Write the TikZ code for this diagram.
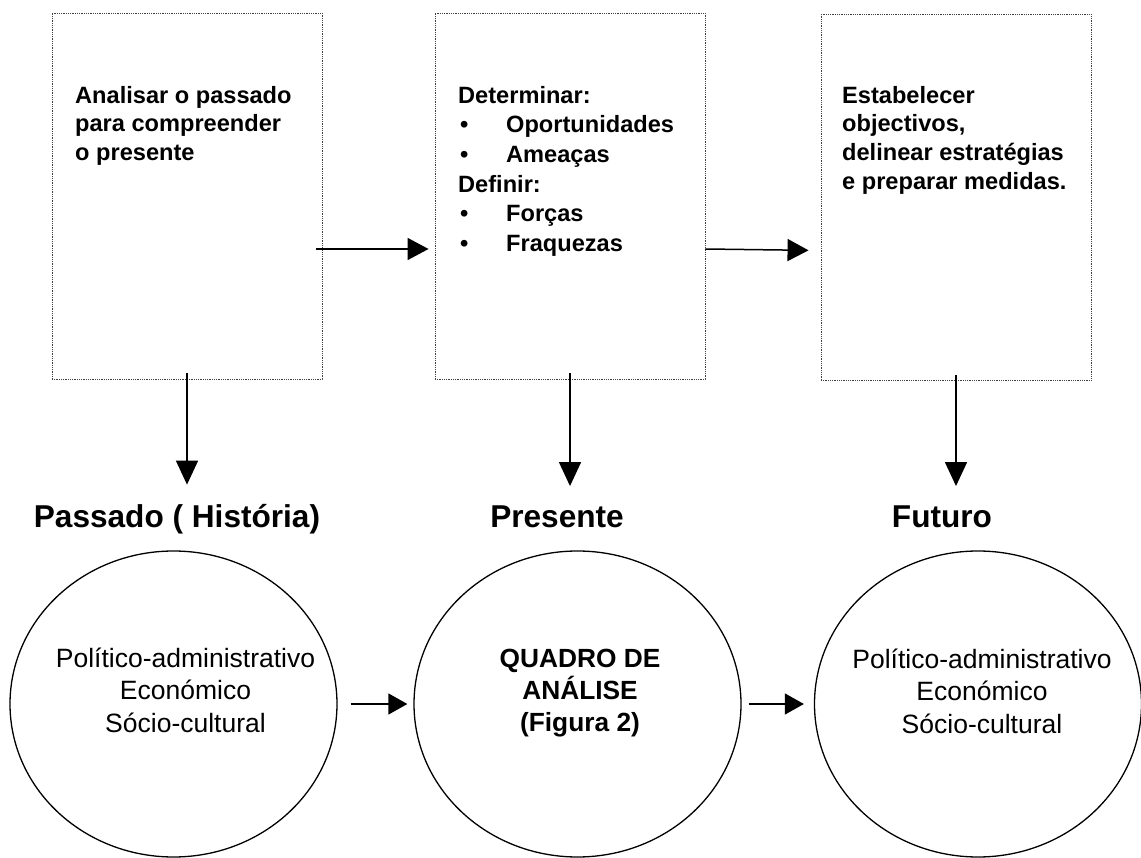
\documentclass[tikz,border=0pt]{standalone}
\usepackage{fontspec}
\setmainfont{Liberation Sans}
\usepackage{tikz}
\usetikzlibrary{arrows.meta}
\usetikzlibrary{shapes,shapes.geometric}
\tikzset{>=stealth}
\tikzset{
        stage/.style={draw=gray!50!black, line width=0.9pt, dash pattern=on 0.9pt off 0.9pt,
                minimum width=270pt, minimum height=366pt, inner sep=0pt},
        boxtext/.style={anchor=north west, inner sep=0pt, align=left,
                font=\fontsize{23.6}{28.7}\selectfont\bfseries},
        era/.style={anchor=base, inner sep=0pt, font=\fontsize{31.6}{36}\selectfont\bfseries},
        sphere/.style={ellipse, draw, line width=1.3pt, minimum width=327pt, minimum height=306pt, inner sep=0pt},
        spheretext/.style={inner sep=0pt, align=center, font=\fontsize{26.5}{32.5}\selectfont},
        flow/.style={line width=1.5pt, -{Triangle[length=21pt,width=22pt]}},
}

\begin{document}
\begin{tikzpicture}[x=1pt, y=-1pt]
        \useasboundingbox[fill=white] (0,0) rectangle (1141,858);

        % Boxes
        \node[stage] (past box) at (187,196) {};
        \node[stage] (now box) at (570,196) {};
        \node[stage] (next box) at (956,197.5) {};

        \node[boxtext] (past txt) at (75,86) {Analisar o passado\\para compreender\\o presente};
        \node[boxtext, font=\fontsize{23.6}{29.6}\selectfont\bfseries] (now txt) at (458,86) {Determinar:\\
                \makebox[48pt][l]{\hspace{2pt}\textbullet}Oportunidades\\
                \makebox[48pt][l]{\hspace{2pt}\textbullet}Ameaças\\
                Definir:\\
                \makebox[48pt][l]{\hspace{2pt}\textbullet}Forças\\
                \makebox[48pt][l]{\hspace{2pt}\textbullet}Fraquezas};
        \node[boxtext] (next txt) at (842,86) {Estabelecer\\objectivos,\\delinear estratégias\\e preparar medidas.};

        % Labels
        \node[era] (past lbl) at (177,527) {Passado ( História)};
        \node[era] (now lbl) at (557,527) {Presente};
        \node[era] (next lbl) at (942,527) {Futuro};

        % Circles
        \node[sphere] (past sph) at (173.5,704) {};
        \node[sphere] (now sph) at (577.5,704) {};
        \node[sphere] (next sph) at (978,704) {};

        \node[spheretext] (past aspects) at (185.5,690) {Político-administrativo\\Económico\\Sócio-cultural};
        \node[spheretext, font=\fontsize{26.3}{32}\selectfont\bfseries] (frame) at (580,693) {QUADRO DE\\ANÁLISE\\(Figura 2)};
        \node[spheretext] (next aspects) at (982,691) {Político-administrativo\\Económico\\Sócio-cultural};

        % Arrows
        \draw[flow, shorten <=-6pt, shorten >=6pt] ([yshift=-53pt]past box.east) -- ([yshift=-53pt]now box.west);
        \draw[flow, shorten >=12pt] ([yshift=-53pt]now box.east) -- ([yshift=-53pt]next box.west);

        \draw[flow, -{Triangle[length=24pt,width=22pt]}, shorten <=-6pt, shorten >=19pt] (past box.south) -- (past box.south |- past lbl.north);
        \draw[flow, -{Triangle[length=24pt,width=22pt]}, shorten <=-6pt, shorten >=19pt] (now box.south) -- (now box.south |- now lbl.north);
        \draw[flow, -{Triangle[length=24pt,width=22pt]}, shorten <=-6pt, shorten >=19pt] (next box.south) -- (next box.south |- next lbl.north);

        \draw[flow, -{Triangle[length=19pt,width=21pt]}, shorten <=13pt, shorten >=6pt] (past sph.east) -- (now sph.west);
        \draw[flow, -{Triangle[length=19pt,width=21pt]}, shorten <=7pt, shorten >=10pt] (now sph.east) -- (next sph.west);
\end{tikzpicture}
\end{document}
